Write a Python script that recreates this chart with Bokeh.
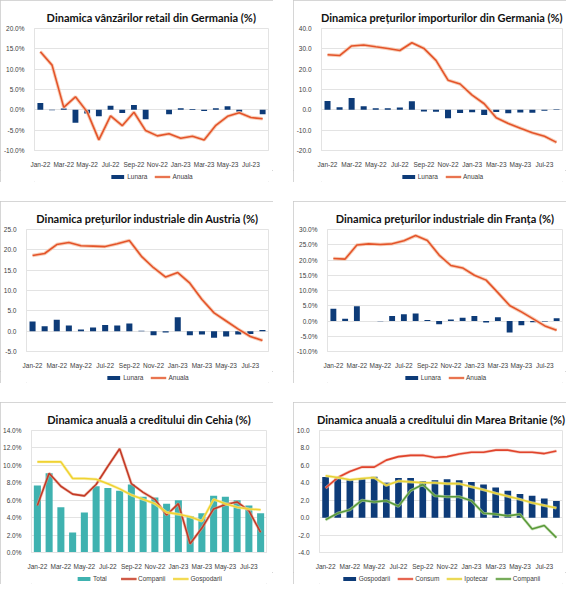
from bokeh.plotting import figure
from bokeh.models import Range1d, FixedTicker, PrintfTickFormatter, Legend, LegendItem, ColumnDataSource
from bokeh.layouts import column, row
from bokeh.embed import file_html
from bokeh.resources import INLINE

months = ["Jan-22", "Feb-22", "Mar-22", "Apr-22", "May-22", "Jun-22", "Jul-22", "Aug-22", "Sep-22", "Oct-22",
          "Nov-22", "Dec-22", "Jan-23", "Feb-23", "Mar-23", "Apr-23", "May-23", "Jun-23", "Jul-23", "Aug-23"]

de_retail_lunara = [1.7, -0.1, 0.3, -3.2, -0.9, -1.6, 1.0, -0.8, 1.2, -2.3, 0.0, -1.1, 0.4, 0.2, -0.3, 0.4, 0.9, -0.5, 0.0, -1.1]
de_retail_anuala = [14.3, 11.0, 0.6, 3.2, -0.5, -7.4, -1.5, -3.9, -0.6, -5.1, -6.4, -5.9, -7.0, -6.5, -7.4, -3.8, -1.6, -0.7, -1.9, -2.2]

de_import_lunara = [4.3, 1.3, 5.8, 1.8, 0.8, 0.8, 1.2, 4.2, -0.8, -1.0, -4.2, -1.5, -1.2, -2.5, -1.1, -1.7, -1.3, -1.4, -0.5, 0.3]
de_import_anuala = [27.1, 26.7, 31.4, 31.9, 31.0, 30.2, 29.2, 33.0, 30.2, 24.3, 14.6, 12.7, 7.2, 3.0, -3.9, -6.7, -9.0, -11.3, -13.0, -16.0]

at_lunara = [2.4, 1.2, 2.8, 1.4, 0.4, 0.9, 1.5, 1.4, 1.9, 0.1, -1.0, -0.3, 3.4, -1.0, -0.8, -1.6, -1.3, -0.8, -0.7, 0.3]
at_anuala = [18.6, 19.1, 21.3, 21.8, 21.0, 20.9, 20.8, 21.5, 22.3, 18.4, 15.6, 13.3, 14.4, 11.8, 7.8, 4.5, 2.5, 0.5, -1.3, -2.3]

fr_lunara = [4.0, 0.7, 4.8, 0.0, -0.1, 1.6, 2.2, 2.5, 0.3, -1.1, 0.5, 1.1, 1.6, -0.5, 1.2, -3.8, -1.4, -0.4, -0.2, 0.9]
fr_anuala = [20.5, 20.3, 24.9, 25.3, 25.1, 25.3, 26.3, 28.0, 26.4, 21.6, 18.2, 17.4, 15.0, 13.4, 9.3, 5.1, 3.0, 0.7, -1.6, -3.0]

cz_total = [7.7, 9.1, 5.2, 2.3, 4.6, 7.6, 7.4, 7.1, 7.8, 6.4, 6.3, 5.6, 6.0, 4.2, 4.5, 6.5, 6.4, 6.0, 5.4, 4.5]
cz_companii = [5.4, 9.1, 7.6, 6.7, 6.5, 7.8, 9.9, 11.9, 7.9, 6.9, 6.1, 4.3, 5.6, 1.0, 2.8, 5.0, 5.5, 5.8, 4.8, 2.3]
cz_gospodarii = [10.4, 10.4, 10.4, 8.5, 8.5, 8.4, 7.9, 7.3, 6.6, 6.1, 5.6, 4.6, 4.4, 4.1, 3.6, 6.1, 5.6, 5.2, 5.0, 4.9]

uk_gospodarii = [4.65, 4.5, 4.35, 4.5, 4.7, 4.0, 4.55, 4.55, 4.2, 4.3, 4.4, 4.3, 4.1, 3.8, 3.45, 3.1, 2.7, 2.5, 2.2, 1.9]
uk_consum = [3.4, 4.6, 5.3, 5.8, 5.8, 6.6, 7.0, 7.15, 7.15, 6.9, 7.0, 7.3, 7.5, 7.5, 7.75, 7.75, 7.5, 7.5, 7.35, 7.65]
uk_ipotecar = [4.8, 4.6, 4.35, 4.5, 4.6, 3.7, 4.2, 4.1, 4.0, 4.0, 3.9, 3.9, 3.55, 3.2, 2.8, 2.45, 2.1, 1.7, 1.4, 1.1]
uk_companii = [-0.25, 0.5, 0.9, 2.0, 1.8, 1.95, 1.3, 3.1, 3.8, 2.5, 2.4, 2.4, 1.95, 0.5, 0.4, 0.2, 0.4, -1.3, -0.9, -2.3]

idx = list(range(len(months)))
label_ticks = idx[::2]
overrides = {i: months[i] for i in label_ticks}

NAVY = "#0d3b78"
ORANGE = "#e4542a"
HALO = "#f5c2a6"
TEAL = "#3fb2b0"
GRID = "#e3e3e3"
TXT = "#404040"
FONT = "Liberation Sans"
TFONT = "Lato"
W = 273
NAN = float("nan")


def base(title, y0, y1, step, pct, mbl, mbr):
    p = figure(width=W, height=170, x_range=Range1d(-0.5, 19.5), y_range=Range1d(y0, y1),
               output_backend="svg", toolbar_location=None,
               min_border_left=mbl, min_border_right=mbr, min_border_top=28, min_border_bottom=17)
    p.title.text = title
    p.title.align = "center"
    p.title.text_font = TFONT
    p.title.text_font_style = "bold"
    p.title.text_font_size = "11px"
    p.title.text_color = "#111111"
    p.outline_line_color = GRID
    p.xgrid.grid_line_color = None
    p.ygrid.grid_line_color = GRID
    p.yaxis.ticker = FixedTicker(ticks=[y0 + i * step for i in range(int(round((y1 - y0) / step)) + 1)])
    p.yaxis.formatter = PrintfTickFormatter(format="%.1f%%" if pct else "%.1f")
    p.xaxis.ticker = FixedTicker(ticks=label_ticks)
    p.xaxis.major_label_overrides = overrides
    for ax in (p.xaxis, p.yaxis):
        ax.axis_line_color = GRID
        ax.major_tick_line_color = None
        ax.minor_tick_line_color = None
        ax.major_label_text_font = FONT
        ax.major_label_text_font_size = "6.5px"
        ax.major_label_text_color = TXT
        ax.major_label_standoff = 4
    return p


def legend_fig(entries):
    """entries: list of (label, kind, color, halo); legend swatches use placeholder renderers with no visible data."""
    lf = figure(width=W, height=12, x_range=Range1d(0, 1), y_range=Range1d(0, 1),
                output_backend="svg", toolbar_location=None, min_border=0)
    lf.axis.visible = False
    lf.grid.visible = False
    lf.outline_line_color = None
    items = []
    for label, kind, color, halo in entries:
        src = ColumnDataSource(dict(x=[NAN], y=[NAN]))
        if kind == "bar":
            r = [lf.vbar(x="x", top="y", width=0.5, source=src, fill_color=color, line_color=None)]
        else:
            r = []
            if halo:
                r.append(lf.line("x", "y", source=src, line_color=halo, line_width=3, line_alpha=0.7))
            r.append(lf.line("x", "y", source=src, line_color=color, line_width=1.6))
        items.append(LegendItem(label=label, renderers=r))
    lg = Legend(items=items, orientation="horizontal", location="center",
                border_line_color=None, background_fill_alpha=0,
                label_text_font=FONT, label_text_font_size="6.5px", label_text_color=TXT,
                glyph_width=16, glyph_height=5, label_standoff=2, spacing=7,
                padding=0, margin=0, label_height=8)
    lf.add_layout(lg, "center")
    return lf


def panel(p, entries):
    return column(p, legend_fig(entries), spacing=0,
                  styles={"outline": "1px solid #c9c9c9", "outline-offset": "-1px"})


def orange_line(p, ys):
    src = ColumnDataSource(dict(x=idx, y=ys))
    p.line("x", "y", source=src, line_color=HALO, line_width=3.5, line_alpha=0.8)
    p.line("x", "y", source=src, line_color=ORANGE, line_width=1.6)


def bar_line_panel(title, y0, y1, step, pct, mbl, mbr, bars, line, bw=0.5):
    p = base(title, y0, y1, step, pct, mbl, mbr)
    src = ColumnDataSource(dict(x=idx, top=bars))
    p.vbar(x="x", top="top", bottom=0, width=bw, source=src, fill_color=NAVY, line_color=None)
    orange_line(p, line)
    return panel(p, [("Lunara", "bar", NAVY, None), ("Anuala", "line", ORANGE, HALO)])


c1 = bar_line_panel("Dinamica vânzărilor retail din Germania (%)", -10, 20, 5, True, 30, 5,
                    de_retail_lunara, de_retail_anuala)
c2 = bar_line_panel("Dinamica prețurilor importurilor din Germania (%)", -20, 40, 10, False, 21, 4,
                    de_import_lunara, de_import_anuala)
c3 = bar_line_panel("Dinamica prețurilor industriale din Austria (%)", -5, 25, 5, False, 23, 5,
                    at_lunara, at_anuala)
c4 = bar_line_panel("Dinamica prețurilor industriale din Franța (%)", -10, 30, 5, True, 28, 4,
                    fr_lunara, fr_anuala)

# Czech
p5 = base("Dinamica anuală a creditului din Cehia (%)", 0, 14, 2, True, 29, 7)
s5 = ColumnDataSource(dict(x=idx, total=cz_total, comp=cz_companii, hh=cz_gospodarii))
p5.vbar(x="x", top="total", bottom=0, width=0.6, source=s5, fill_color=TEAL, line_color=None)
p5.line("x", "comp", source=s5, line_color="#e8a08a", line_width=3, line_alpha=0.6)
p5.line("x", "comp", source=s5, line_color="#c43a26", line_width=1.6)
p5.line("x", "hh", source=s5, line_color="#f8ec9a", line_width=3, line_alpha=0.7)
p5.line("x", "hh", source=s5, line_color="#f0d232", line_width=1.6)
c5 = panel(p5, [("Total", "bar", TEAL, None), ("Companii", "line", "#c43a26", "#e8a08a"),
                ("Gospodarii", "line", "#f0d232", "#f8ec9a")])

# UK
p6 = base("Dinamica anuală a creditului din Marea Britanie (%)", -4, 10, 2, False, 23, 4)
s6 = ColumnDataSource(dict(x=idx, hh=uk_gospodarii, cons=uk_consum, ipo=uk_ipotecar, comp=uk_companii))
p6.vbar(x="x", top="hh", bottom=0, width=0.55, source=s6, fill_color=NAVY, line_color=None)
p6.line("x", "cons", source=s6, line_color="#f3b5a5", line_width=3, line_alpha=0.7)
p6.line("x", "cons", source=s6, line_color="#e0442c", line_width=1.6)
p6.line("x", "ipo", source=s6, line_color="#f6ee9e", line_width=3, line_alpha=0.7)
p6.line("x", "ipo", source=s6, line_color="#e6d035", line_width=1.6)
p6.line("x", "comp", source=s6, line_color="#b9d7a4", line_width=3, line_alpha=0.7)
p6.line("x", "comp", source=s6, line_color="#5a9a3a", line_width=1.6)
c6 = panel(p6, [("Gospodarii", "bar", NAVY, None), ("Consum", "line", "#e0442c", "#f3b5a5"),
                ("Ipotecar", "line", "#e6d035", "#f6ee9e"), ("Companii", "line", "#5a9a3a", "#b9d7a4")])

layout = column(row(c1, c2, spacing=20), row(c3, c4, spacing=20), row(c5, c6, spacing=20), spacing=19)

open("out.html", "w").write(file_html(layout, INLINE))
